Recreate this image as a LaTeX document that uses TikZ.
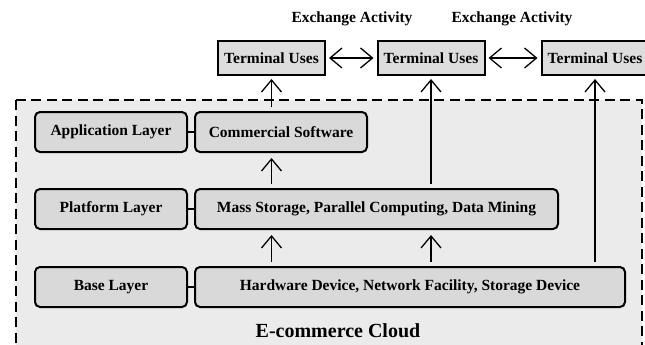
\documentclass[tikz,border=0pt]{standalone}
\usepackage{fontspec}
\setmainfont{Liberation Serif}
\usepackage{xcolor}
\usepackage{tikz}
\usetikzlibrary{arrows.meta,positioning}
\definecolor{cloudgray}{HTML}{EBEBEB}
\definecolor{boxgray}{HTML}{D9D9D9}
\tikzset{layer/.style={draw,rounded corners=5pt,line width=2pt,fill=boxgray,inner sep=0pt,minimum height=40pt,font=\fontsize{15.5}{18}\selectfont\bfseries},
  term/.style={draw,line width=2pt,fill=boxgray!90,inner sep=0pt,minimum width=107pt,minimum height=34pt,font=\fontsize{15.5}{18}\selectfont\bfseries},
  barb/.tip={Straight Barb[length=12pt,width=20pt,line width=1.3pt]},
  up/.style={-barb,line width=1.2pt,shorten >=3pt,shorten <=4pt}}

\begin{document}
\begin{tikzpicture}[x=1pt,y=-1pt]
    \clip (0,0) rectangle (645,345);
    \fill[white] (0,0) rectangle (645,345);
    % cloud frame
    \draw[dash pattern=on 10pt off 5.5pt,line width=2.5pt,fill=cloudgray] (16,100) rectangle (642,370);
    \node[font=\fontsize{20}{24}\selectfont\bfseries] (cloud) at (338,331) {E-commerce Cloud};

    \node[term] (t1) at (271.5,58) {Terminal Uses};
    \node[term] (t2) at (431,58) {Terminal Uses};
    \node[term] (t3) at (595,58) {Terminal Uses};
    \node[font=\fontsize{15.5}{18}\selectfont\bfseries] (ex1) at (352,19) {Exchange Activity};
    \node[font=\fontsize{15.5}{18}\selectfont\bfseries] (ex2) at (512,19) {Exchange Activity};

    \node[layer,minimum width=152pt] (app) at (111,132) {Application Layer};
    \node[layer,minimum width=172pt] (cs) at (281,132) {Commercial Software};
    \node[layer,minimum width=152pt] (plat) at (111,209) {Platform Layer};
    \node[layer,minimum width=363pt] (ms) at (376.5,209) {Mass Storage, Parallel Computing, Data Mining};
    \node[layer,minimum width=152pt] (base) at (111,287) {Base Layer};
    \node[layer,minimum width=430pt] (hw) at (410,287) {Hardware Device, Network Facility, Storage Device};

    \draw [line width=2pt] (app) -- (cs);
    \draw [line width=2pt] (plat) -- (ms);
    \draw [line width=2pt] (base) -- (hw);

    \draw [barb-barb,line width=1.2pt,shorten >=3pt,shorten <=3pt] (t1) -- (t2);
    \draw [barb-barb,line width=1.2pt,shorten >=3pt,shorten <=3pt] (t2) -- (t3);

    \draw [up] (cs.north -| t1.south) -- (t1.south);
    \draw [up,shorten >=5pt] (ms.north -| t1.south) -- (cs.south -| t1.south);
    \draw [up] (ms.north -| t2.south) -- (t2.south);
    \draw [up,shorten >=5pt] (hw.north -| t1.south) -- (ms.south -| t1.south);
    \draw [up,shorten >=5pt] (hw.north -| t2.south) -- (ms.south -| t2.south);
    \draw [up] (hw.north -| t3.south) -- (t3.south);
\end{tikzpicture}
\end{document}
